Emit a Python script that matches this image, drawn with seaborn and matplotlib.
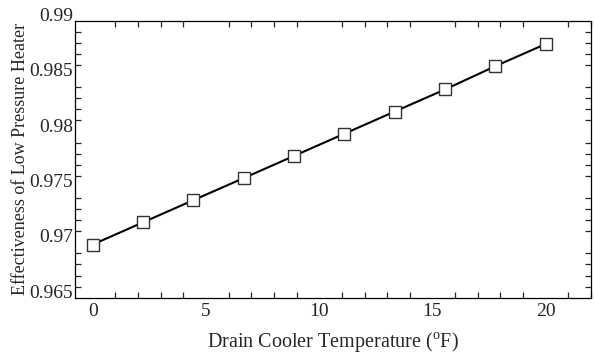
import numpy as np
import pandas as pd
import seaborn as sns
import matplotlib.pyplot as plt
from matplotlib.ticker import MultipleLocator

# data
drain_cooler_temp = [0, 2.22, 4.44, 6.67, 8.89, 11.11, 13.33, 15.56, 17.78, 20]
effectiveness = [0.9698, 0.9718, 0.9738, 0.9758, 0.9778, 0.9798, 0.9818, 0.9838, 0.9859, 0.9879]
x_ticks = [0, 5, 10, 15, 20]
y_ticks = [0.965, 0.97, 0.975, 0.98, 0.985, 0.99]
y_tick_labels = ['0.965', '0.97', '0.975', '0.98', '0.985', '0.99']


def draw_chart(df):
    fig = plt.figure(figsize=(5.94, 3.6), dpi=100)
    ax = fig.add_axes([0.1263, 0.173, 0.8687, 0.7695])
    sns.lineplot(data=df, x='temp', y='eff', ax=ax, color='black', linewidth=1.5,
                 marker='s', markersize=8, markerfacecolor='white',
                 markeredgecolor='#333333', markeredgewidth=1.0)

    ax.set_xlim(-0.78, 22)
    ax.set_ylim(0.965, 0.99)
    ax.set_xticks(x_ticks)
    ax.set_xticklabels([str(t) for t in x_ticks])
    ax.set_yticks(y_ticks)
    ax.set_yticklabels(y_tick_labels)
    ax.xaxis.set_minor_locator(MultipleLocator(1))
    ax.yaxis.set_minor_locator(MultipleLocator(0.001))

    # only the minor ticks are visible in the original
    ax.tick_params(which='major', length=0, labelsize=14)
    ax.tick_params(axis='x', which='major', pad=4)
    ax.tick_params(axis='y', which='major', pad=1.5)
    ax.tick_params(which='minor', length=4, width=0.9, direction='in',
                   top=True, right=True, bottom=True, left=True)
    for lab in ax.get_yticklabels():
        lab.set_va('baseline')

    for s in ax.spines.values():
        s.set_visible(True)
        s.set_color('black')
        s.set_linewidth(0.9)

    ax.set_xlabel(r'Drain Cooler Temperature ($^{\rm o}$F)', fontsize=14.5, labelpad=7)
    ax.set_ylabel('Effectiveness of Low Pressure Heater', fontsize=13, labelpad=0)

    fig.savefig('out.png', dpi=100)


if __name__ == '__main__':
    sns.set_style('ticks')
    plt.rcParams['font.family'] = ['Liberation Serif', 'DejaVu Serif']
    plt.rcParams['mathtext.fontset'] = 'custom'
    plt.rcParams['mathtext.rm'] = 'Liberation Serif'

    df = pd.DataFrame({'temp': drain_cooler_temp, 'eff': effectiveness})
    draw_chart(df)
